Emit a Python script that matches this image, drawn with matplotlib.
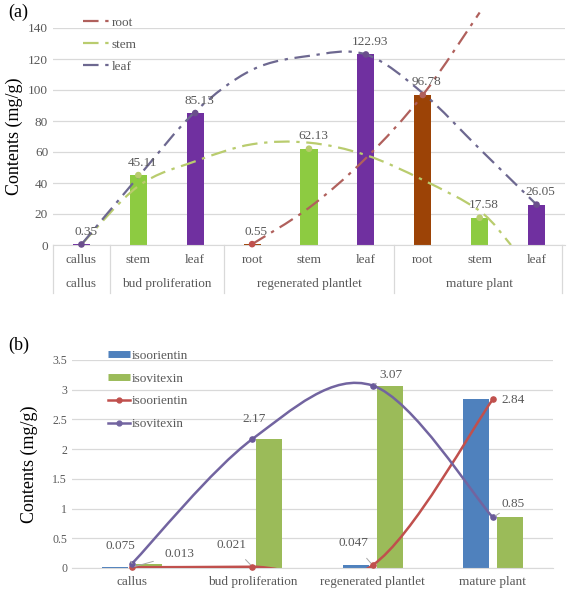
import numpy as np
import matplotlib
matplotlib.use("Agg")
import matplotlib.pyplot as plt
from matplotlib.path import Path
from matplotlib.patches import PathPatch
from matplotlib.lines import Line2D

plt.rcParams["font.family"] = ["Liberation Serif", "DejaVu Serif"]

# ---------------- data (a) ----------------
organs = ["callus", "stem", "leaf", "root", "stem", "leaf", "root", "stem", "leaf"]
stages_a = ["callus", "bud proliferation", "regenerated plantlet", "mature plant"]
stage_span = [(1, 1), (2, 3), (4, 6), (7, 9)]
contents = [0.35, 45.11, 85.13, 0.55, 62.13, 122.93, 96.78, 17.58, 26.05]

# dash-dot curves at category positions
root_x = [4, 5, 6, 7, 8]
root_y = [0.55, 24, 56, 96.78, 150]
stem_x = [1, 2, 3, 4, 5, 6, 7, 8, 8.55]
stem_y = [0.35, 38, 54, 65, 66, 58, 42, 22, 0]
leaf_x = [1, 2, 3, 4, 5, 6, 7, 8, 9]
leaf_y = [0.35, 44, 86, 113, 122, 122.93, 98, 62, 26.05]

# ---------------- data (b) ----------------
stages_b = ["callus", "bud proliferation", "regenerated plantlet", "mature plant"]
isoorientin = [0.013, 0.021, 0.047, 2.84]
isovitexin = [0.075, 2.17, 3.07, 0.85]

BAR_COL = {"callus": "#7030A0", "stem": "#8DCB41", "leaf": "#7030A0", "root": "#9C4306"}
LINE_COL = {"root": "#B0605C", "stem": "#B9CC6E", "leaf": "#6D6890"}
GRID = "#D9D9D9"
TXT = "#595959"


def smooth(xs, ys):
    """Catmull-Rom 風のベジェ（Excel の平滑線に近い）"""
    pts = np.column_stack([xs, ys]).astype(float)
    p = np.vstack([pts[0], pts, pts[-1]])
    verts = [pts[0]]
    codes = [Path.MOVETO]
    for i in range(1, len(p) - 2):
        verts += [p[i] + (p[i + 1] - p[i - 1]) / 6,
                  p[i + 1] - (p[i + 2] - p[i]) / 6,
                  p[i + 1]]
        codes += [Path.CURVE4] * 3
    return Path(verts, codes)


def style_axes(ax):
    for s in ("left", "right", "top"):
        ax.spines[s].set_visible(False)
    ax.spines["bottom"].set_color(GRID)
    ax.tick_params(axis="both", length=0, colors=TXT, labelsize=9.5)
    ax.yaxis.grid(True, color=GRID, lw=0.9)
    ax.set_axisbelow(True)


fig = plt.figure(figsize=(5.67, 5.94), dpi=100)

# ================= (a) =================
ax = fig.add_axes([53 / 567, 1 - 245 / 594, 512 / 567, 217 / 594])
style_axes(ax)
x = np.arange(1, 10)
ax.bar(x, contents, width=0.3, color=[BAR_COL[o] for o in organs], zorder=2)
ax.set_xlim(0.5, 9.5)
ax.set_ylim(0, 140)
ax.set_yticks(range(0, 141, 20))
ax.set_xticks([])

for xs, ys, key, clip in ((root_x, root_y, "root", False),
                          (stem_x, stem_y, "stem", True),
                          (leaf_x, leaf_y, "leaf", True)):
    pp = PathPatch(smooth(xs, ys), fill=False, edgecolor=LINE_COL[key], lw=1.6,
                   linestyle=(0, (7, 3, 1.5, 3)), zorder=3, clip_on=clip)
    ax.add_patch(pp)

mk_col = ["#6A4E8C" if o in ("callus", "leaf") else LINE_COL[o] for o in organs]
mk_col[3] = "#C0504D"
ax.scatter(x, contents, s=14, c=mk_col, zorder=4, clip_on=False)
for xi, v in zip(x, contents):
    ax.annotate(f"{v:.2f}", (xi, v), xytext=(3, 9),
                textcoords="offset points", ha="center", va="center",
                fontsize=9.5, color=TXT, zorder=5)

tr = ax.get_xaxis_transform()
for xi, o in zip(x, organs):
    ax.text(xi, -0.07, o, transform=tr, ha="center", va="center", fontsize=9.5, color=TXT)
for (a0, a1), s in zip(stage_span, stages_a):
    ax.text((a0 + a1) / 2, -0.18, s, transform=tr, ha="center", va="center",
            fontsize=9.5, color=TXT)
for b in (0.5, 1.5, 3.5, 6.5, 9.45):
    ax.plot([b, b], [0, -0.22], transform=tr, color=GRID, lw=0.9, clip_on=False)

ax.set_ylabel("Contents (mg/g)", fontsize=13, color="black", labelpad=4)
fig.text(8 / 567, 1 - 12 / 594, "(a)", fontsize=13, va="center")

hand_a = [Line2D([], [], color=LINE_COL[k], lw=1.6, linestyle=(0, (7, 3, 1.5, 3)))
          for k in ("root", "stem", "leaf")]
leg = fig.legend(hand_a, ["root", "stem", "leaf"], loc="upper left",
                 bbox_to_anchor=(76 / 567, 1 - 10 / 594), frameon=False,
                 fontsize=9.5, handlelength=2.0, handletextpad=0.2,
                 labelspacing=0.75, borderpad=0)
for t in leg.get_texts():
    t.set_color(TXT)

# ================= (b) =================
bx = fig.add_axes([72 / 567, 1 - 568 / 594, 481 / 567, 208 / 594])
style_axes(bx)
bx.tick_params(axis="y", labelsize=8.5)
xb = np.arange(4)
bx.bar(xb - 0.142, isoorientin, width=0.217, color="#4F81BD", zorder=2)
bx.bar(xb + 0.142, isovitexin, width=0.217, color="#9BBB59", zorder=2)
bx.set_xlim(-0.5, 3.5)
bx.set_ylim(0, 3.5)
bx.set_yticks(np.arange(0, 3.6, 0.5))
bx.set_yticklabels(["0", "0.5", "1", "1.5", "2", "2.5", "3", "3.5"])
bx.set_xticks(xb)
bx.set_xticklabels(stages_b, fontsize=9.5)
bx.tick_params(axis="x", pad=6)

bx.add_patch(PathPatch(smooth(xb, isoorientin), fill=False, edgecolor="#C0504D",
                       lw=1.8, zorder=3))
bx.add_patch(PathPatch(smooth(xb, isovitexin), fill=False, edgecolor="#7264A0",
                       lw=1.8, zorder=3))
bx.scatter(xb, isoorientin, s=14, color="#C0504D", zorder=4, clip_on=False)
bx.scatter(xb, isovitexin, s=14, color="#6A5A9A", zorder=4, clip_on=False)

# 数値ラベル (x offset px, y offset px, leader)
lab_b = [
    (0, isovitexin[0], "0.075", (-12, 18), True),
    (0, isoorientin[0], "0.013", (47, 13), True),
    (1, isoorientin[1], "0.021", (-21, 22), True),
    (1, isovitexin[1], "2.17", (2, 20), False),
    (2, isovitexin[2], "3.07", (18, 11), True),
    (2, isoorientin[2], "0.047", (-19, 22), True),
    (3, isoorientin[3], "2.84", (20, -1), False),
    (3, isovitexin[3], "0.85", (20, 13), True),
]
for xi, v, s, (dx, dy), lead in lab_b:
    bx.annotate(s, (xi, v), xytext=(dx * 0.72, dy * 0.72), textcoords="offset points",
                ha="center", va="center", fontsize=9.5, color=TXT, zorder=5,
                arrowprops=dict(arrowstyle="-", color="#A6A6A6", lw=0.7,
                                shrinkA=6, shrinkB=2) if lead else None)

bx.set_ylabel("Contents (mg/g)", fontsize=13, color="black", labelpad=10)
fig.text(8 / 567, 1 - 345 / 594, "(b)", fontsize=13, va="center")

hand_b = [Line2D([], [], color="#4F81BD", lw=5, solid_capstyle="butt"),
          Line2D([], [], color="#9BBB59", lw=5, solid_capstyle="butt"),
          Line2D([], [], color="#C0504D", lw=1.8, marker="o", ms=3.5),
          Line2D([], [], color="#7264A0", lw=1.8, marker="o", ms=3.5)]
leg = fig.legend(hand_b, ["isoorientin", "isovitexin", "isoorientin", "isovitexin"],
                 loc="upper left", bbox_to_anchor=(101 / 567, 1 - 343 / 594),
                 frameon=False, fontsize=9.5, handlelength=1.7, handletextpad=0.1,
                 labelspacing=0.8, borderpad=0)
for t in leg.get_texts():
    t.set_color(TXT)

fig.savefig("out.png", dpi=100)
